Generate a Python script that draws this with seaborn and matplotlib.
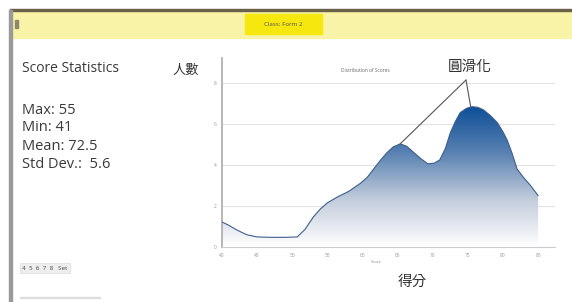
import numpy as np
import pandas as pd
import matplotlib
matplotlib.use("Agg")
import matplotlib.pyplot as plt
import seaborn as sns
from matplotlib.patches import Rectangle, Polygon
from matplotlib.colors import LinearSegmentedColormap

# ---- data ----
scores = [40.0, 41.0, 42.0, 43.0, 43.6, 45.0, 47.0, 49.0, 50.7, 51.8, 53.0, 54.0,
          55.0, 56.5, 58.0, 59.7, 60.7, 61.5, 62.5, 63.5, 64.4, 65.4, 66.3, 67.2,
          68.3, 69.3, 70.2, 71.0, 71.8, 72.5, 73.2, 73.9, 74.8, 75.6, 76.4, 77.2,
          78.2, 79.2, 80.0, 80.6, 81.3, 82.0, 83.0, 83.9, 85.0]
counts = [1.22, 1.05, 0.85, 0.68, 0.59, 0.49, 0.47, 0.47, 0.49, 0.85, 1.46, 1.85,
          2.15, 2.45, 2.70, 3.10, 3.40, 3.76, 4.20, 4.60, 4.88, 5.02, 4.90, 4.63,
          4.30, 4.05, 4.08, 4.24, 4.80, 5.56, 6.10, 6.54, 6.75, 6.83, 6.80, 6.68,
          6.40, 6.05, 5.60, 5.20, 4.55, 3.80, 3.35, 3.00, 2.50]
x_ticks = [40, 45, 50, 55, 60, 65, 70, 75, 80, 85]
y_ticks = [0, 2, 4, 6, 8]
stats_lines = ["Max: 55", "Min: 41", "Mean: 72.5", "Std Dev.:  5.6"]

sns.set_style("white")
plt.rcParams['font.family'] = ['Open Sans', 'Noto Sans CJK TC', 'DejaVu Sans']

fig = plt.figure(figsize=(5.72, 3.02), dpi=100)
W, H = 572, 302
def fx(px): return px / W
def fy(py): return 1 - py / H

# top band
fig.patches.append(Rectangle((fx(10), fy(38)), 1, (38 - 10) / H, transform=fig.transFigure,
                             color="#f8f3a6", zorder=0))
fig.patches.append(Rectangle((fx(10), fy(11)), 1, 2 / H, transform=fig.transFigure,
                             color="#6b6048", zorder=1))
fig.patches.append(Rectangle((fx(245), fy(34)), 77 / W, 20 / H, transform=fig.transFigure,
                             color="#f6e70e", zorder=1))
fig.text(fx(283), fy(24), "Class: Form 2", fontsize=4.5, ha="center", va="center", color="#555")
fig.patches.append(Rectangle((fx(15), fy(28)), 3 / W, 8 / H, transform=fig.transFigure,
                             color="#8a8a6a", zorder=1))
# left border
fig.patches.append(Rectangle((fx(9), 0), 3 / W, fy(10), transform=fig.transFigure,
                             color="#9a9a9a", zorder=1))

# left panel
fig.text(fx(22), fy(68), "Score Statistics", fontsize=10, ha="left", va="center", color="#3a3a3a")
for i, s in enumerate(stats_lines):
    fig.text(fx(22), fy(110 + 18 * i), s, fontsize=10.5, ha="left", va="center", color="#3a3a3a")
fig.text(fx(22), fy(268), "4  5  6  7  8   Set", fontsize=4.5, ha="left", va="center", color="#444",
         bbox=dict(boxstyle="square,pad=0.4", fc="#eeeeee", ec="#dddddd", lw=0.5))
fig.patches.append(Rectangle((fx(20), fy(298)), 80 / W, 1 / H, transform=fig.transFigure,
                             color="#dddddd", zorder=1))

# chart axes
ax = fig.add_axes([fx(222), fy(247), (555 - 222) / W, (247 - 58) / H])
df = pd.DataFrame({"score": scores, "count": counts})

xlim = (40, 87.4)
ylim = (0, 9.2)

# gradient fill clipped to area under curve
cmap = LinearSegmentedColormap.from_list("g", ["#ffffff", "#c3cddc", "#5a82b2", "#0d4f97"])
grad = np.linspace(0, 1, 256).reshape(-1, 1)
top_val = max(counts)
im = ax.imshow(grad, extent=[xlim[0], xlim[1], 0, top_val], origin="lower", aspect="auto",
               cmap=cmap, zorder=2)
poly = Polygon(np.column_stack([[scores[0]] + scores + [scores[-1]],
                                [0] + counts + [0]]), closed=True, transform=ax.transData,
               facecolor="none", edgecolor="none")
ax.add_patch(poly)
im.set_clip_path(poly)

sns.lineplot(data=df, x="score", y="count", ax=ax, color="#3c5f8c", lw=0.8, zorder=3)
ax.set_xlim(*xlim)
ax.set_ylim(*ylim)

ax.set_xticks(x_ticks)
ax.set_yticks(y_ticks)
ax.set_xticklabels([str(t) for t in x_ticks], fontsize=3.5, color="#999")
ax.set_yticklabels([str(t) for t in y_ticks], fontsize=3.5, color="#999")
ax.tick_params(axis="both", length=2, width=0.5, color="#aaa", pad=2)
ax.yaxis.grid(True, color="#e2e2e2", lw=0.8)
ax.set_axisbelow(True)
for s in ["top", "right"]:
    ax.spines[s].set_visible(False)
ax.spines["left"].set_color("#aaaaaa")
ax.spines["bottom"].set_color("#cccccc")
ax.spines["left"].set_linewidth(1.2)
ax.set_xlabel("")
ax.set_ylabel("")

# labels
fig.text(fx(186), fy(70), "人數", fontsize=9.5, ha="center", va="center", color="#333")
fig.text(fx(365), fy(71), "Distribution of Scores", fontsize=3.5, ha="center", va="center", color="#666")
fig.text(fx(376), fy(262), "Score", fontsize=3, ha="center", va="center", color="#888")
fig.text(fx(412), fy(282), "得分", fontsize=10.5, ha="center", va="center", color="#333")
fig.text(fx(470), fy(67), "圓滑化", fontsize=10.5, ha="center", va="center", color="#333")

# annotation lines from label to peaks
start = (fx(466), fy(80))
ax.annotate("", xy=(65.3, 5.0), xytext=start, textcoords="figure fraction",
            arrowprops=dict(arrowstyle="-", color="#555", lw=0.8, shrinkA=0, shrinkB=0))
ax.annotate("", xy=(75.4, 6.83), xytext=start, textcoords="figure fraction",
            arrowprops=dict(arrowstyle="-", color="#555", lw=0.8, shrinkA=0, shrinkB=0))

fig.savefig("out.png", dpi=100)
